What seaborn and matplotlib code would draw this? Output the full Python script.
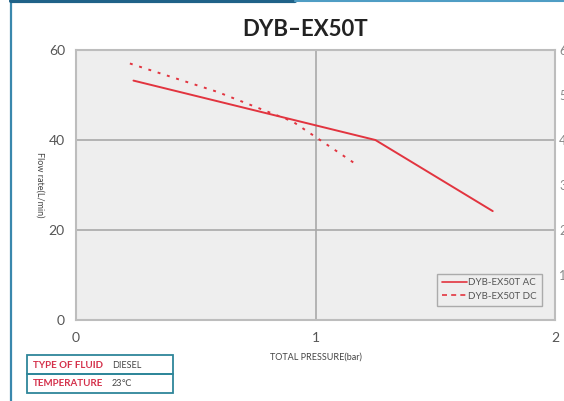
"""
Flow rate vs total pressure curve for the DYB-EX50T pump
"""

# import section
import pandas as pd
import seaborn as sns
import matplotlib.pyplot as plt
from matplotlib.patches import Rectangle
from matplotlib.lines import Line2D

# curve data
AC_PRESSURE = [0.24, 1.25, 1.74]
AC_FLOW = [53.2, 40.0, 24.2]
DC_PRESSURE = [0.225, 0.59, 0.905, 1.175]
DC_FLOW = [57.0, 50.7, 44.1, 34.4]
SERIES = ['DYB-EX50T AC', 'DYB-EX50T DC']
X_TICKS = [0, 1, 2]
Y_TICKS = [0, 20, 40, 60]
RIGHT_TICKS = [1, 2, 3, 4, 5, 6]
FLUID_ROWS = [('TYPE OF FLUID', 'DIESEL'), ('TEMPERATURE', '23\u2103')]

CURVES = pd.concat([
    pd.DataFrame({'pressure': AC_PRESSURE, 'flow': AC_FLOW, 'series': SERIES[0]}),
    pd.DataFrame({'pressure': DC_PRESSURE, 'flow': DC_FLOW, 'series': SERIES[1]}),
])

RED = '#e2343f'
TEAL = '#2e869a'
TICK_GREY = '#555555'

# set plot dimensions
X_PIXELS, Y_PIXELS, DPI = 564, 401, 100
sns.set_style('white')
plt.rcParams['font.family'] = ['Lato', 'DejaVu Sans']

fig = plt.figure(figsize=(X_PIXELS / DPI, Y_PIXELS / DPI), dpi=DPI)
ax = fig.add_axes([76 / X_PIXELS, 1 - 320 / Y_PIXELS, 479 / X_PIXELS, 270 / Y_PIXELS])
ax.set_facecolor('#eeeeee')

sns.lineplot(data=CURVES, x='pressure', y='flow', hue='series', style='series',
             palette=[RED, RED], dashes=[(None, None), (1.5, 3.5)], linewidth=1.4,
             legend=False, ax=ax)

ax.set_xlim(0, 2)
ax.set_ylim(0, 60)
ax.set_xticks(X_TICKS)
ax.set_yticks(Y_TICKS)
ax.grid(True, color='#a9a9a9', linewidth=1.2)
ax.set_axisbelow(True)
ax.tick_params(length=0, labelsize=10, labelcolor=TICK_GREY)
ax.tick_params(axis='x', pad=9)
ax.tick_params(axis='y', pad=8)
for spine in ax.spines.values():
    spine.set_color('#bdbdbd')
    spine.set_linewidth(1.5)
ax.set_xlabel('TOTAL PRESSURE(bar)', fontsize=6.5, color='#444444', labelpad=6)
ax.set_ylabel('Flow rate(L/min)', fontsize=6.5, color='#444444', rotation=270,
              va='bottom')
ax.yaxis.set_label_coords(-0.085, 0.5)

# right hand scale
ax2 = ax.twinx()
ax2.set_ylim(0, 6)
ax2.set_yticks(RIGHT_TICKS)
ax2.tick_params(length=0, labelsize=9, labelcolor='#888888', pad=3)
for spine in ax2.spines.values():
    spine.set_visible(False)

# legend
handles = [Line2D([], [], color=RED, linewidth=1.2),
           Line2D([], [], color=RED, linewidth=1.2, dashes=(3, 2.5))]
leg = ax.legend(handles, SERIES, loc='lower right', bbox_to_anchor=(0.982, 0.035),
                fontsize=7, frameon=True, fancybox=False, edgecolor='#9a9a9a',
                handlelength=2.6, handletextpad=0.1, borderpad=0.5,
                labelspacing=0.45, labelcolor='#555555')
leg.get_frame().set_linewidth(1.0)
leg.get_frame().set_facecolor('#eeeeee')

# title
fig.text(305 / X_PIXELS, 1 - 29 / Y_PIXELS, 'DYB\u2013EX50T', fontsize=16,
         fontweight='bold', color='#222222', ha='center', va='center')

# fluid info table
for i, (name, value) in enumerate(FLUID_ROWS):
    top = 355 + i * 19
    fig.patches.append(Rectangle((27 / X_PIXELS, 1 - (top + 19) / Y_PIXELS),
                                 146 / X_PIXELS, 19 / Y_PIXELS,
                                 transform=fig.transFigure, fill=False,
                                 edgecolor=TEAL, linewidth=1.3))
    fig.text(33 / X_PIXELS, 1 - (top + 10) / Y_PIXELS, name, fontsize=7,
             fontweight='bold', color='#d4304a', va='center')
    fig.text(112 / X_PIXELS, 1 - (top + 10) / Y_PIXELS, value, fontsize=6.5,
             color='#444444', va='center')

# page frame
fig.add_artist(Line2D([11 / X_PIXELS, 11 / X_PIXELS], [0, 1], color='#3a88ad',
                      linewidth=1.6, transform=fig.transFigure))
fig.add_artist(Line2D([11 / X_PIXELS, 295 / X_PIXELS], [1 - 1 / Y_PIXELS] * 2,
                      color='#1f6288', linewidth=3, transform=fig.transFigure))
fig.add_artist(Line2D([295 / X_PIXELS, 1], [1 - 1 / Y_PIXELS] * 2,
                      color='#4f9dc4', linewidth=1.5, transform=fig.transFigure))

plt.savefig('out.png', dpi=DPI)
